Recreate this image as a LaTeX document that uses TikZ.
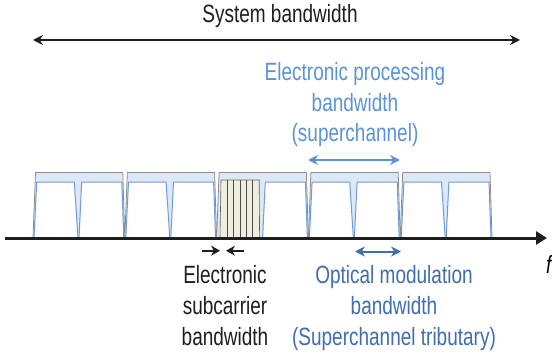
\documentclass[tikz,border=0pt]{standalone}
\usepackage{fontspec}
\setmainfont[FakeStretch=0.76]{Liberation Sans}
\usetikzlibrary{arrows.meta}
\definecolor{bandfill}{HTML}{DCE8F5}
\definecolor{bandline}{HTML}{6F9BD6}
\definecolor{outlinegray}{HTML}{8C8C8C}
\definecolor{lightblue}{HTML}{5B93D3}
\definecolor{darkblue}{HTML}{3F6DAE}
\definecolor{cream}{HTML}{EFEDDD}
\definecolor{inkblack}{HTML}{1E1E1E}
\begin{document}
\begin{tikzpicture}[x=1pt,y=-1pt,
  lbl/.style={font=\fontsize{25}{31}\selectfont, inner sep=0pt, align=center, anchor=base},
  bandout/.style={fill=bandfill, draw=outlinegray, line width=0.8pt, line join=round},
  window/.style={fill=white, draw=bandline, line width=1pt, line join=round},
  dbl/.style={line width=2pt, {Stealth[length=10pt,width=10pt]}-{Stealth[length=10pt,width=10pt]}},
  single/.style={line width=1.8pt, -{Stealth[length=9pt,width=10pt]}, draw=inkblack}
]
\useasboundingbox (0,0) rectangle (552,361);

% channel blocks
\foreach \i in {0,...,4}{
  \pgfmathsetmacro\xa{33+91.8*\i}
  \pgfmathsetmacro\xb{\xa+91.8}
  \filldraw[bandout] (\xa,238) -- (\xa+2.5,172.5) -- (\xb-2,172.5) -- (\xb,238);
  \ifnum\i=2\relax
    \filldraw[fill=cream, draw=inkblack!70, line width=0.6pt] (\xa+3.4,238) -- (\xa+4.4,180) -- (\xa+42.6,180) -- (\xa+43,238);
    \foreach \k in {1,...,5}{
      \draw[inkblack!80, line width=0.8pt] (\xa+4.4+6.37*\k,180) -- (\xa+4.4+6.37*\k,238);
    }
  \else
    \filldraw[window] (\xa+1,238) -- (\xa+3.7,182) -- (\xa+41.3,182) -- (\xa+45,238);
  \fi
  \filldraw[window] (\xa+46,238) -- (\xa+48.7,182) -- (\xb-3,182) -- (\xb-1,238);
}

% frequency axis
\coordinate (axL) at (5,238);
\coordinate (axR) at (547,238);
\draw[inkblack, line width=3pt, -{Triangle[length=11pt,width=13pt]}] (axL) -- (axR);
\node[font=\fontsize{25}{31}\selectfont\itshape, inner sep=0pt, anchor=base west] (f) at (546,273) {f};

% system bandwidth
\node[lbl, text=inkblack] (sys) at (280,23) {System bandwidth};
\coordinate (sysL) at (33,40);
\coordinate (sysR) at (520,40);
\draw[dbl, inkblack] (sysL) -- (sysR);

% electronic processing bandwidth
\node[lbl, text=lightblue] (proc) at (355,142) {Electronic processing\\bandwidth\\(superchannel)};
\coordinate (procL) at (308,160);
\coordinate (procR) at (400,160);
\draw[dbl, lightblue] (procL) -- (procR);

% electronic subcarrier bandwidth
\coordinate (subL) at (202,250.7);
\coordinate (subLe) at (220,250.7);
\coordinate (subR) at (244,250.7);
\coordinate (subRe) at (226,250.7);
\draw[single] (subL) -- (subLe);
\draw[single] (subR) -- (subRe);
\node[lbl, text=inkblack] (sub) at (225,345) {Electronic\\subcarrier\\bandwidth};

% optical modulation bandwidth
\coordinate (optL) at (355,251.5);
\coordinate (optR) at (401,251.5);
\draw[dbl, darkblue] (optL) -- (optR);
\node[lbl, text=darkblue] (opt) at (394,345) {Optical modulation\\bandwidth\\(Superchannel tributary)};
\end{tikzpicture}
\end{document}
